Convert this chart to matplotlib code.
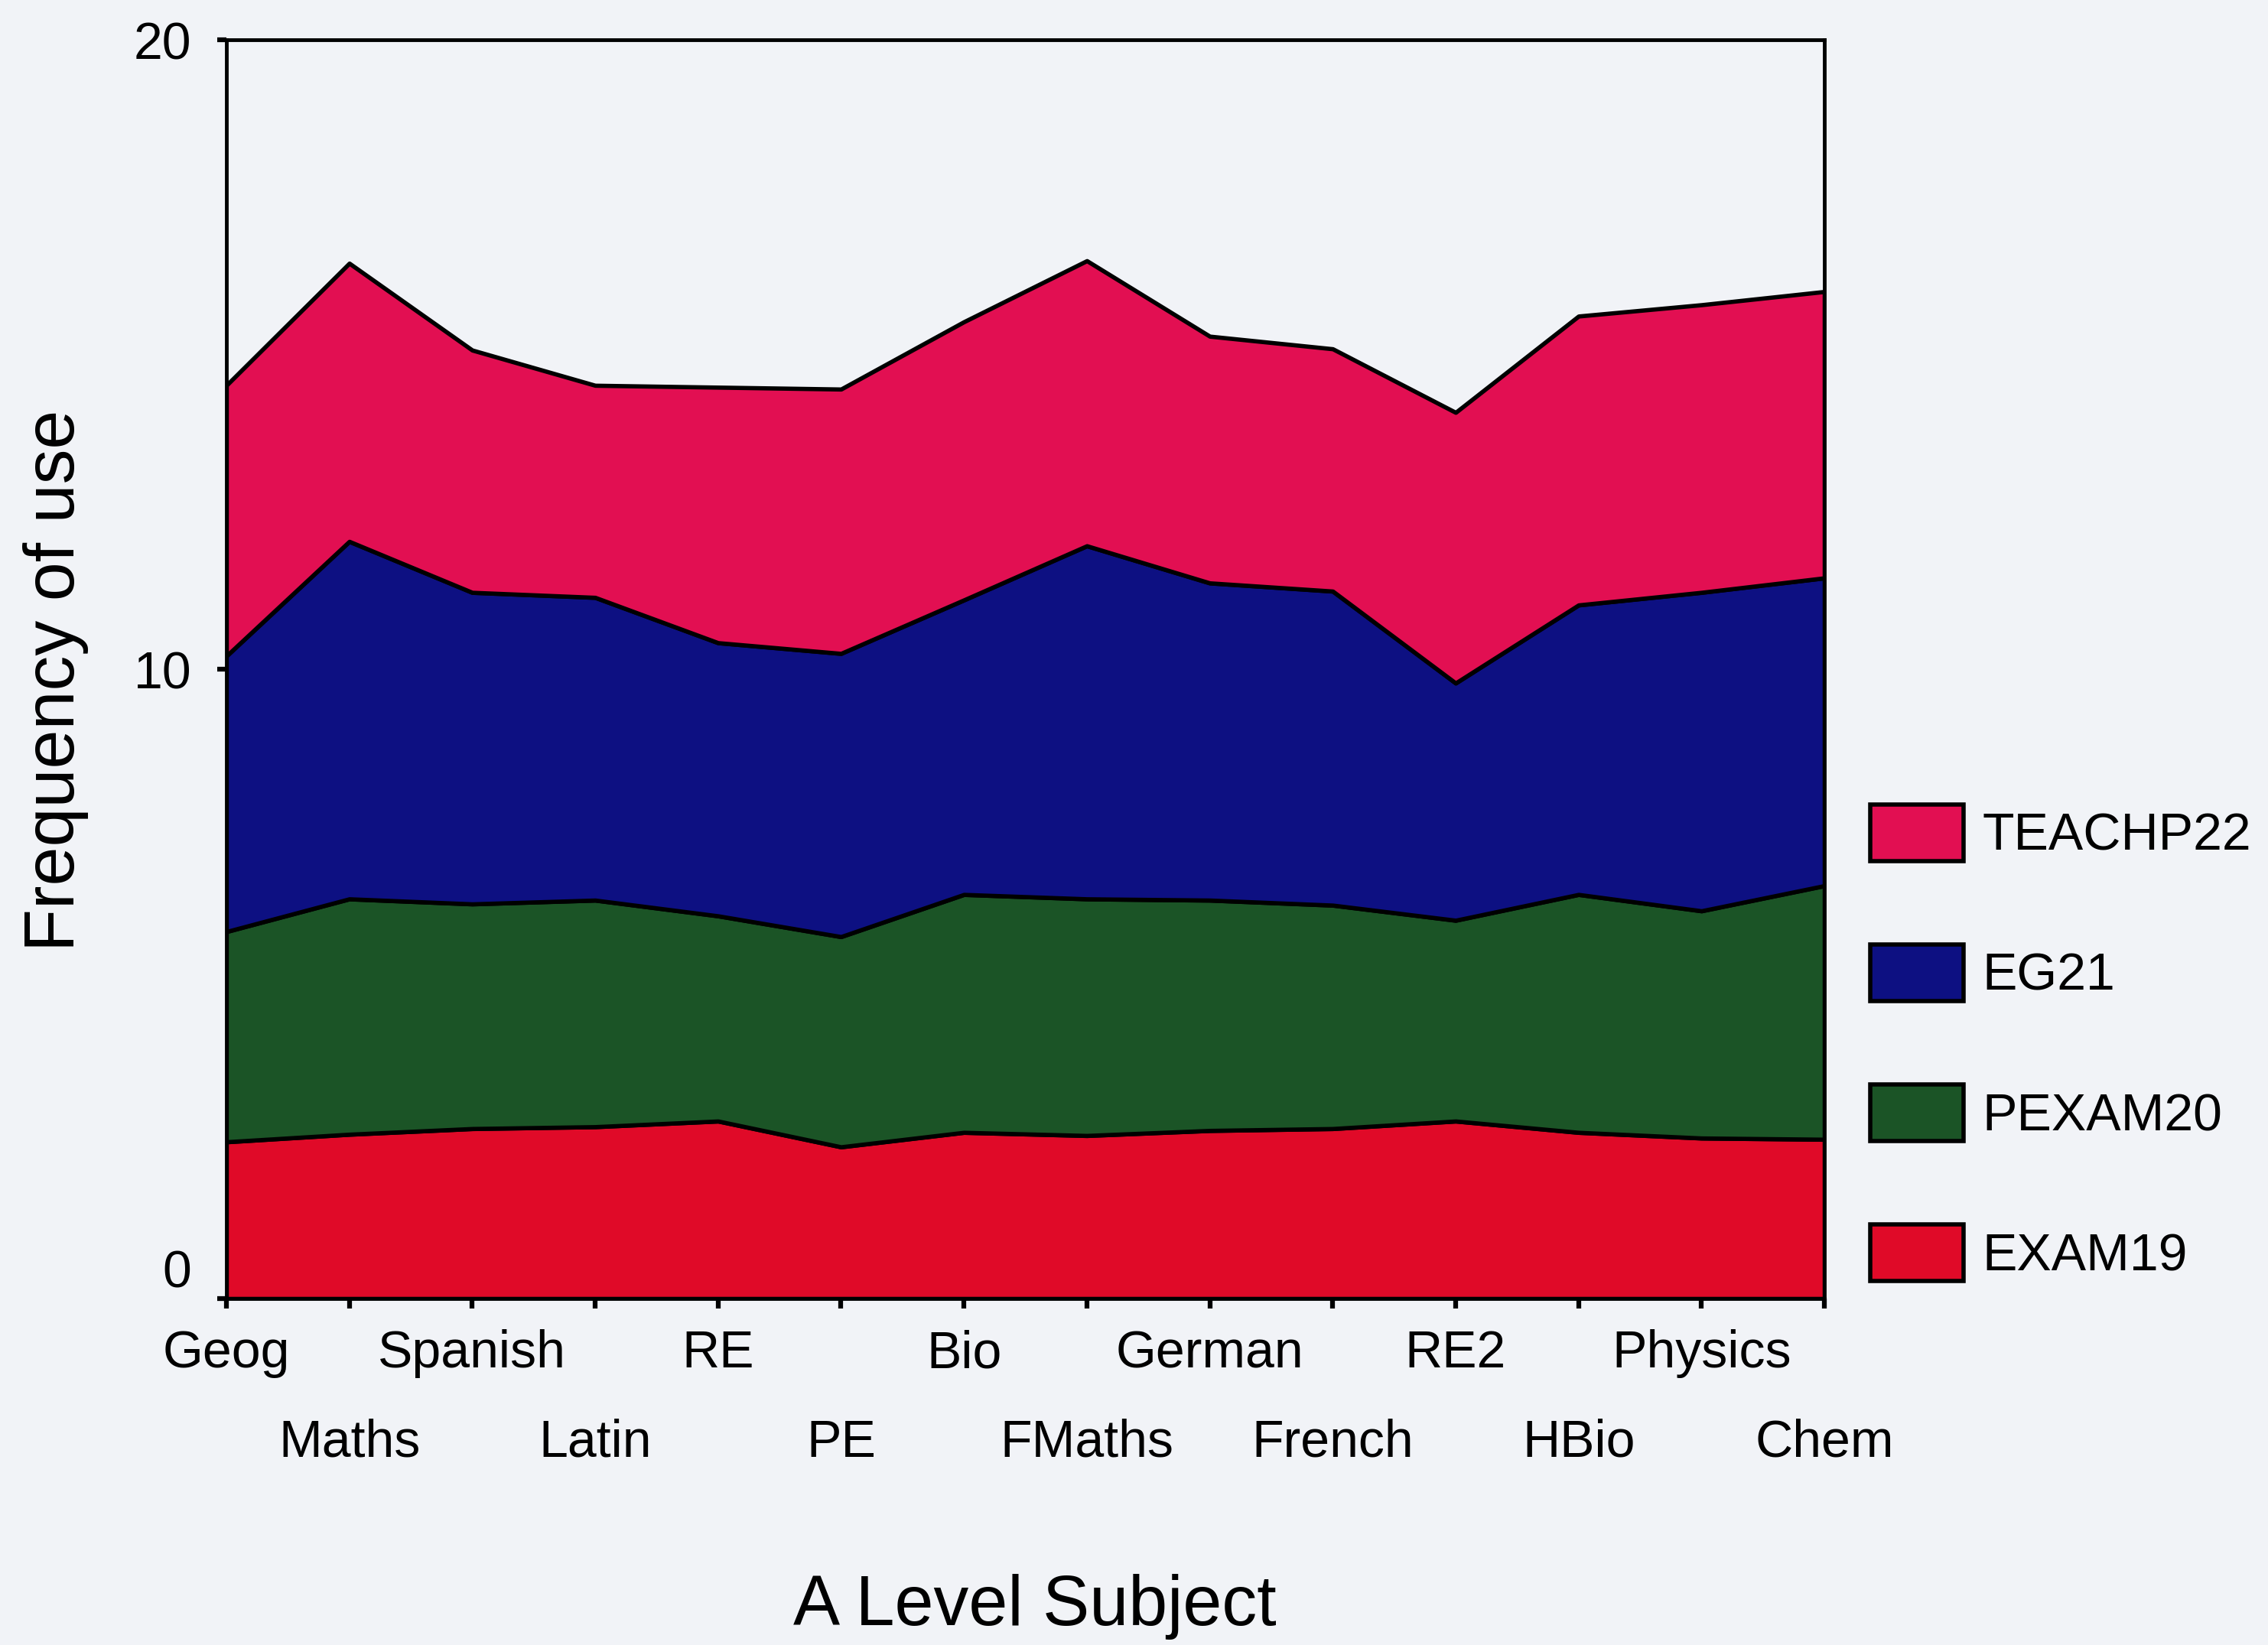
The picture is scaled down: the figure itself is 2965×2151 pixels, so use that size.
import numpy as np
from matplotlib import pyplot as plt

subjects = ['Geog', 'Maths', 'Spanish', 'Latin', 'RE', 'PE', 'Bio', 'FMaths',
            'German', 'French', 'RE2', 'HBio', 'Physics', 'Chem']

exam19 = [2.49, 2.61, 2.70, 2.73, 2.82, 2.41, 2.64, 2.59, 2.67, 2.70, 2.82, 2.64, 2.55, 2.53]
pexam20 = [3.34, 3.74, 3.57, 3.60, 3.26, 3.34, 3.78, 3.76, 3.66, 3.55, 3.19, 3.78, 3.61, 4.03]
eg21 = [4.38, 5.68, 4.95, 4.81, 4.34, 4.50, 4.68, 5.61, 5.04, 4.99, 3.77, 4.60, 5.06, 4.89]
teachp22 = [4.30, 4.42, 3.85, 3.37, 4.06, 4.20, 4.42, 4.53, 3.92, 3.85, 4.30, 4.59, 4.57, 4.55]

series_names = ['EXAM19', 'PEXAM20', 'EG21', 'TEACHP22']
colors = ['#e00a28', '#1b5426', '#0d1082', '#e20f52']

plt.rcParams['font.family'] = ['Liberation Sans', 'DejaVu Sans']
bg = '#f1f3f7'

fig = plt.figure(figsize=(29.65, 21.51), dpi=100, facecolor=bg)
ax = fig.add_axes([0.0998, 0.2106, 0.7046, 0.7652])
ax.set_facecolor(bg)

x = np.arange(len(subjects))
polys = ax.stackplot(x, exam19, pexam20, eg21, teachp22, colors=colors,
                     edgecolor='black', linewidth=4)

ax.set_xlim(0, len(subjects) - 1)
ax.set_ylim(0, 20)
ax.set_yticks([0, 10, 20])
ax.set_xticks(x)
ax.set_xticklabels(subjects)

for side in ['top', 'right', 'bottom', 'left']:
    ax.spines[side].set_linewidth(3.5)
    ax.spines[side].set_color('black')

ax.tick_params(axis='x', length=9, width=4.5, pad=20, labelsize=49)
ax.tick_params(axis='y', length=9, width=4.5, pad=24, labelsize=49)

# alternate the subject names on two rows
for i, tick in enumerate(ax.xaxis.get_major_ticks()):
    if i % 2 == 1:
        tick.set_pad(104)

# the 0 label sits a little above the axis in the original
ax.get_yticklabels()[0].set_va('bottom')

ax.set_xlabel('A Level Subject', fontsize=66)
ax.xaxis.set_label_coords(0.506, -0.219)
ax.set_ylabel('Frequency of use', fontsize=66)
ax.yaxis.set_label_coords(-0.086, 0.491)

ax.legend(polys[::-1], series_names[::-1], loc='center left',
          bbox_to_anchor=(0.8246, 0.366), bbox_transform=fig.transFigure,
          frameon=False, fontsize=49, handlelength=1.8, handleheight=1.3,
          labelspacing=1.6, handletextpad=0.35, borderpad=0, borderaxespad=0)
for h in ax.get_legend().legend_handles:
    h.set_linewidth(4)

fig.savefig('out.png', dpi=100, facecolor=bg)
